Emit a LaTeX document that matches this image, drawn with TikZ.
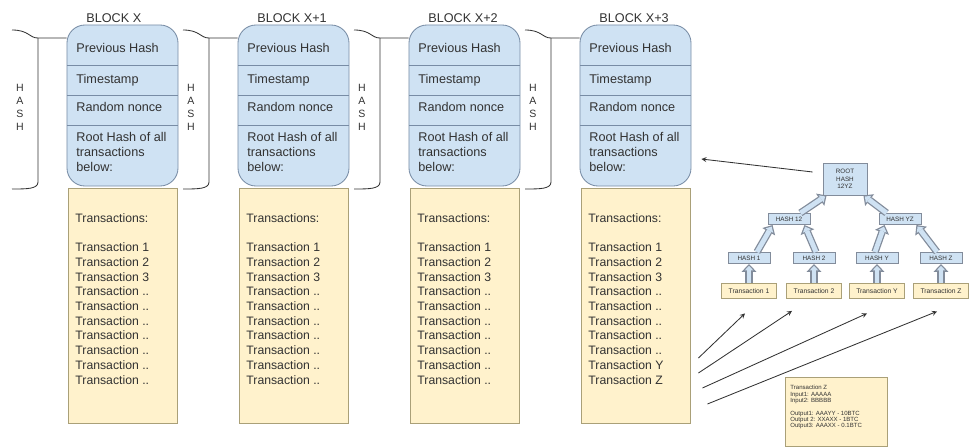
\documentclass[tikz,border=0pt]{standalone}
\usepackage{fontspec}
\setmainfont{Liberation Sans}
\usetikzlibrary{arrows.meta, positioning, calc}

\definecolor{hdrfill}{RGB}{207,226,243}
\definecolor{hdrline}{RGB}{120,140,165}
\definecolor{txfill}{RGB}{255,242,204}
\definecolor{txline}{RGB}{170,160,120}
\definecolor{treeline}{RGB}{130,140,155}
\definecolor{ink}{RGB}{50,50,50}

\begin{document}
\begin{tikzpicture}[
        x = 0.025cm,
        y = -0.025cm,
        > = stealth,
        line width = 0.6pt,
        font = \fontsize{9}{10.7}\selectfont,
        text = ink,
        hdrbox/.style = {draw = hdrline, fill = hdrfill, rounded corners = 0.45cm,
                         minimum width = 2.775cm, minimum height = 4.025cm, inner sep = 0pt},
        txbox/.style = {draw = txline, fill = txfill,
                        minimum width = 2.725cm, minimum height = 5.875cm, inner sep = 0pt},
        sepline/.style = {draw = hdrline},
        celltext/.style = {anchor = base west, inner sep = 0pt},
        listtext/.style = {anchor = north west, align = left, inner sep = 0pt,
                           font = \fontsize{8.7}{10.46}\selectfont},
        bracket/.style = {draw = ink},
        hashtext/.style = {align = center, inner sep = 0pt, font = \fontsize{7.5}{9.3}\selectfont},
        treebox/.style = {draw = treeline, fill = hdrfill, inner sep = 0pt,
                          minimum width = 1.05cm, minimum height = 0.28cm,
                          font = \fontsize{4.5}{5.5}\selectfont},
        leafbox/.style = {draw = txline, fill = txfill, inner sep = 0pt,
                          minimum width = 1.375cm, minimum height = 0.375cm,
                          font = \fontsize{4.8}{5.5}\selectfont},
        fatarrow/.style = {
            preaction = {draw = treeline, line width = 5.2pt, shorten > = 0pt,
                         -{Triangle[length = 5.5pt, width = 10.5pt, line width = 0pt]}},
            draw = hdrfill, line width = 3.4pt,
            -{Triangle[length = 3.3pt, width = 6.3pt, line width = 0pt]},
            shorten > = 1.3pt},
        pointer/.style = {->, draw = ink}
    ]
    \useasboundingbox (0,0) rectangle (969,448);

    % the chain of blocks
    \foreach \i/\lbl in {1/X, 2/X+1, 3/X+2, 4/X+3} {
        \pgfmathsetmacro{\L}{67+171*(\i-1)}
        \ifnum\i=4
            \def\txtail{Transaction ..\\Transaction ..\\Transaction ..\\Transaction ..\\Transaction ..\\Transaction Y\\Transaction Z}
        \else
            \def\txtail{Transaction ..\\Transaction ..\\Transaction ..\\Transaction ..\\Transaction ..\\Transaction ..\\Transaction ..}
        \fi

        \node[hdrbox] (hdr\i) at (\L+55.5,105.5) {};
        \node[celltext] (name\i) at (\L+19,22) {BLOCK \lbl};
        \draw[sepline] (\L,65) -- (\L+111,65);
        \draw[sepline] (\L,95) -- (\L+111,95);
        \draw[sepline] (\L,125) -- (\L+111,125);
        \node[celltext] (prev\i) at (\L+9,52.5) {Previous Hash};
        \node[celltext] (time\i) at (\L+9,83) {Timestamp};
        \node[celltext] (nonce\i) at (\L+9,111.5) {Random nonce};
        \node[anchor = north west, align = left, inner sep = 0pt] (merkle\i) at (\L+9,132)
            {Root Hash of all\\transactions\\below:};

        \node[txbox] (tx\i) at (\L+55.5,305.5) {};
        \node[listtext] (list\i) at (\L+8,213.7)
            {Transactions:\\[9.9pt]Transaction 1\\Transaction 2\\Transaction 3\\\txtail};

        % hash of the previous block
        \draw[bracket] (\L-55,30) .. controls (\L-38,30) and (\L-38,38) .. (\L-29,38)
            -- (hdr\i.west |- 0,38);
        \draw[bracket] (\L-29,38) -- (\L-29,182) .. controls (\L-29,189) and (\L-40,189) .. (\L-55,189);
        \node[hashtext] (hash\i) at (\L-47,107) {H\\A\\S\\H};
    }

    % merkle tree
    \node[treebox, minimum width = 1.1cm, minimum height = 0.8cm, align = center]
        (rootnode) at (845,179) {ROOT\\HASH\\12YZ};
    \node[treebox] (h12) at (789,219) {HASH 12};
    \node[treebox] (hyz) at (900,219) {HASH YZ};
    \node[treebox] (h1) at (749,258) {HASH 1};
    \node[treebox] (h2) at (814,258) {HASH 2};
    \node[treebox] (hy) at (877,258) {HASH Y};
    \node[treebox] (hz) at (941,258) {HASH Z};
    \node[leafbox] (t1) at (749,291) {Transaction 1};
    \node[leafbox] (t2) at (814,291) {Transaction 2};
    \node[leafbox] (ty) at (877,291) {Transaction Y};
    \node[leafbox] (tz) at (941,291) {Transaction Z};

    \draw[fatarrow] (t1) -- (h1);
    \draw[fatarrow] (t2) -- (h2);
    \draw[fatarrow] (ty) -- (hy);
    \draw[fatarrow] (tz) -- (hz);
    \draw[fatarrow] ($(h1.north)+(8,0)$) -- ($(h12.south west)+(5,0)$);
    \draw[fatarrow] ($(h2.north)+(2,0)$) -- ($(h12.south east)+(-6,0)$);
    \draw[fatarrow] ($(hy.north)+(-2,0)$) -- ($(hyz.south west)+(6,0)$);
    \draw[fatarrow] ($(hz.north)+(-4,0)$) -- ($(hyz.south east)+(-5,0)$);
    \draw[fatarrow] ($(h12.north east)+(-10,0)$) -- ($(rootnode.south west)+(4,0)$);
    \draw[fatarrow] ($(hyz.north west)+(8,0)$) -- ($(rootnode.south east)+(-4,0)$);

    % details of one transaction
    \node[txbox, minimum width = 2.55cm, minimum height = 1.725cm] (detail) at (836,412) {};
    \node[anchor = north west, align = left, inner sep = 0pt, font = \fontsize{4.3}{4.5}\selectfont]
        (detailtext) at (790,385)
        {Transaction Z\\Input1: AAAAA\\Input2: BBBBB\\[4.5pt]Output1: AAAYY - 10BTC\\Output 2: XXAXX - 1BTC\\Output3: AAAXX - 0.1BTC};

    \draw[pointer] ($(rootnode.west)+(-10,-7)$) -- ($(hdr4.east)+(10,53.5)$);
    \draw[pointer] ($(tx4.east)+(8,52.5)$) -- ($(t1.south)+(-4,14.5)$);
    \draw[pointer] ($(tx4.east)+(8,67.5)$) -- ($(t2.south)+(-22,12)$);
    \draw[pointer] ($(tx4.east)+(12,82.5)$) -- ($(ty.south)+(-10,14.5)$);
    \draw[pointer] ($(tx4.east)+(17,98.5)$) -- ($(tz.south)+(-4,12.5)$);
\end{tikzpicture}
\end{document}
